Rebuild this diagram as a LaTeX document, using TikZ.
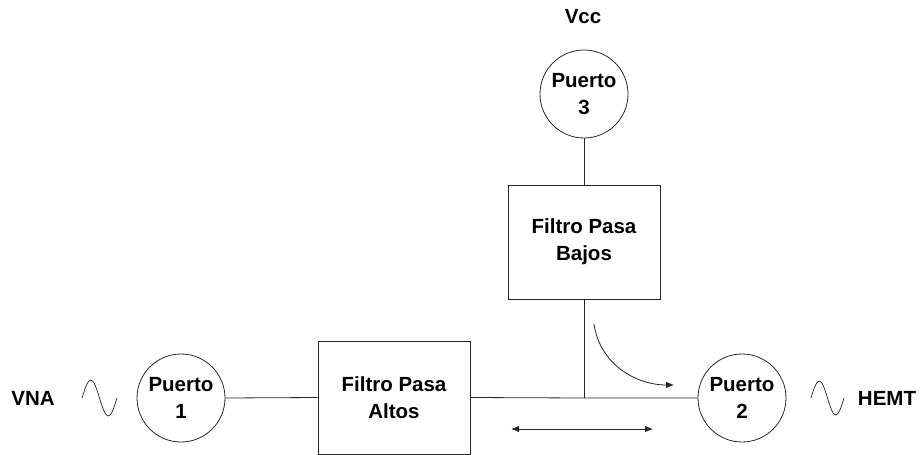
\documentclass[tikz,border=0pt]{standalone}
\usepackage{fontspec}
\setmainfont{Liberation Sans}
\usetikzlibrary{arrows.meta}
\begin{document}
\begin{tikzpicture}[x=1pt,y=-1pt,
  line width=0.8pt, draw=black!85,
  lbl/.style={font=\fontsize{20.5}{27}\selectfont\bfseries, align=center, inner sep=0pt},
  port/.style={lbl, circle, draw=black!85, line width=0.8pt, minimum size=88pt},
  filt/.style={lbl, rectangle, draw=black!85, line width=0.8pt, minimum width=152pt},
  wire/.style={draw=black!85, line width=0.8pt},
  arr/.style={wire, -{Latex[length=8pt,width=6.5pt]}},
  darr/.style={wire, {Latex[length=8pt,width=6.5pt]}-{Latex[length=8pt,width=6.5pt]}}]
\useasboundingbox (0,0) rectangle (921,455);
% ports
\node[port] (p1) at (181,398) {Puerto\\1};
\node[port] (p2) at (742,398) {Puerto\\2};
\node[port] (p3) at (584,94) {Puerto\\3};
% filters
\node[filt, minimum height=113pt] (alto) at (394,397.5) {Filtro Pasa\\Altos};
\node[filt, minimum height=114pt] (bajo) at (584,242) {Filtro Pasa\\Bajos};
% labels
\node[lbl] (vna) at (33,398) {VNA};
\node[lbl] (hemt) at (887,398) {HEMT};
\node[lbl] (vcc) at (583,17) {Vcc};
% junction
\coordinate (j) at (584,398);
\draw[wire] (p1.east) -- (alto.west);
\draw[wire] (alto.east) -- (j) -- (p2.west);
\draw[wire] (p3.south) -- (bajo.north);
\draw[wire] (bajo.south) -- (j);
% arrows
\coordinate (ca) at (594,324);
\coordinate (cb) at (674,385);
\draw[arr] (ca) to[out=-82,in=180] (cb);
\coordinate (da) at (511,429);
\coordinate (db) at (653,429);
\draw[darr] (da) -- (db);
% sine sources
\draw[wire, line width=0.7pt] (82,398) sin (90.75,380) cos (99.5,398) sin (108.25,416) cos (117,398);
\draw[wire, line width=0.7pt] (811,398) sin (819.25,381) cos (827.5,398) sin (835.75,415) cos (844,398);
\end{tikzpicture}
\end{document}
